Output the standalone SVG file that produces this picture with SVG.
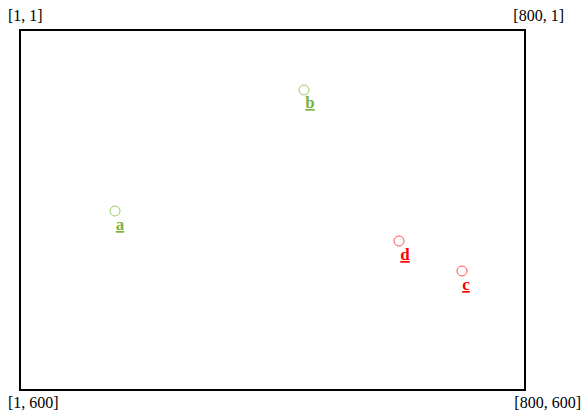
<svg xmlns="http://www.w3.org/2000/svg" width="583" height="411" viewBox="0 0 583 411">
<style>
.corner{font-family:"Liberation Serif","DejaVu Serif",serif;font-size:16px;fill:#000}
.lbl{font-family:"Liberation Serif","DejaVu Serif",serif;font-size:17px;font-weight:bold;text-anchor:middle;text-decoration:underline}
.g{fill:#7cb342}
.r{fill:#ff0000}
.cg{fill:none;stroke:#9ccc65;stroke-width:1}
.cr{fill:none;stroke:#ff5555;stroke-width:1}
</style>
<rect x="20" y="30" width="505" height="360" fill="none" stroke="#000" stroke-width="2"/>
<text class="corner" x="8" y="21">[1, 1]</text>
<text class="corner" x="564" y="21" text-anchor="end">[800, 1]</text>
<text class="corner" x="8" y="408">[1, 600]</text>
<text class="corner" x="581" y="408" text-anchor="end">[800, 600]</text>
<g id="b"><circle class="cg" cx="304" cy="90" r="5"/><text class="lbl g" x="310" y="108">b</text></g>
<g id="a"><circle class="cg" cx="115" cy="211" r="5"/><text class="lbl g" x="120" y="230">a</text></g>
<g id="d"><circle class="cr" cx="399" cy="241" r="5"/><text class="lbl r" x="405" y="260">d</text></g>
<g id="c"><circle class="cr" cx="462" cy="271" r="5"/><text class="lbl r" x="466" y="290">c</text></g>
<g id="connectors"></g>
</svg>
